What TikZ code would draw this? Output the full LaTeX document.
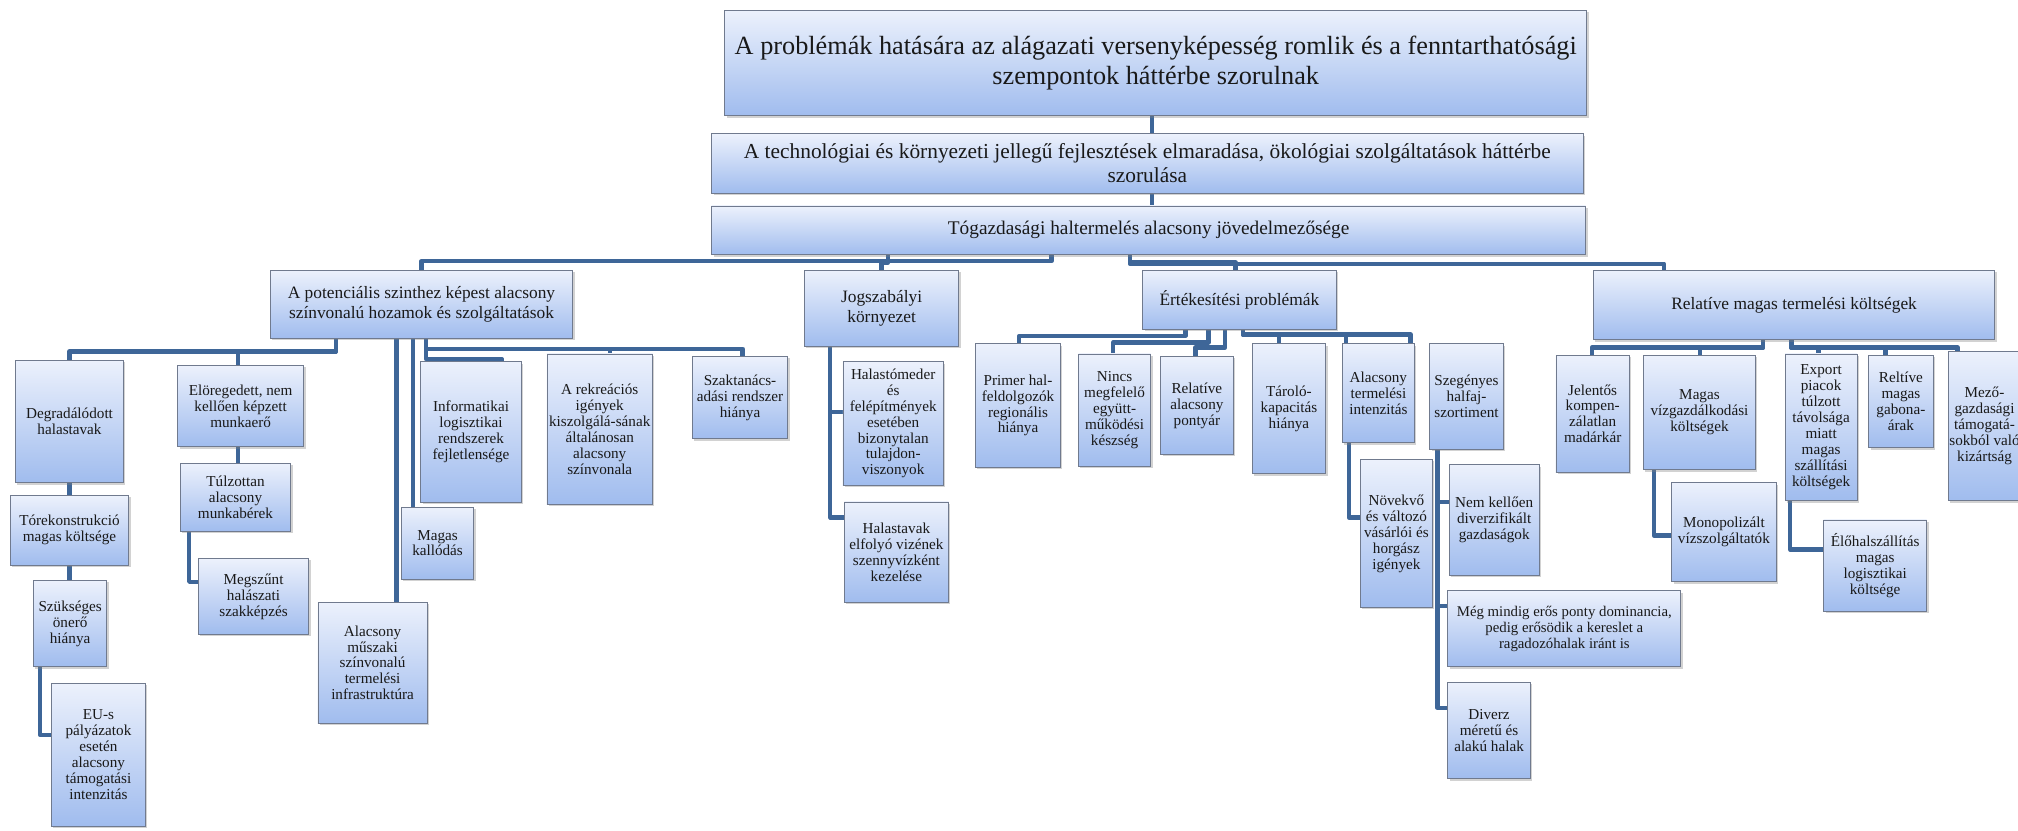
\documentclass[tikz,border=0pt]{standalone}
\usepackage{fontspec}
\setmainfont{Liberation Serif}
\usetikzlibrary{shadows,backgrounds}
\definecolor{boxtop}{RGB}{236,241,252}
\definecolor{boxbot}{RGB}{160,188,238}
\definecolor{boxline}{RGB}{112,122,142}
\definecolor{linkblue}{RGB}{62,102,152}
\definecolor{txt}{RGB}{25,25,25}
\newcommand{\fsS}{\fontsize{11.8bp}{12.4bp}\selectfont}
\newcommand{\fsM}{\fontsize{13.5bp}{15bp}\selectfont}
\newcommand{\fsL}{\fontsize{15bp}{18bp}\selectfont}
\newcommand{\fsLL}{\fontsize{16.6bp}{18.5bp}\selectfont}
\newcommand{\fsXL}{\fontsize{20.4bp}{23bp}\selectfont}
\tikzset{
  box/.style={draw=boxline, line width=0.6bp, top color=boxtop, bottom color=boxbot,
    drop shadow={shadow xshift=1.5bp, shadow yshift=-1.5bp, opacity=0.35},
    inner sep=1bp, align=center, text=txt, font=\fsS},
  link/.style={draw=linkblue, line width=3.4bp, line join=round}
}
\newcommand{\mybox}[7][]{%
  \pgfmathsetmacro{\myBW}{#5-#3}%
  \pgfmathsetmacro{\myBH}{#6-#4}%
  \pgfmathsetmacro{\myCX}{(#3+#5)/2}%
  \pgfmathsetmacro{\myCY}{(#4+#6)/2}%
  \node[box, minimum width=\myBW bp, minimum height=\myBH bp, #1] (#2) at (\myCX,\myCY) {#7};%
}
\begin{document}
\begin{tikzpicture}[x=1bp, y=-1bp]
\useasboundingbox (0,0) rectangle (1568,645);
% levels 1-3
\mybox[font=\fsXL]{top}{563}{8}{1233}{90}{A problémák hatására az alágazati versenyképesség romlik és a fenntarthatósági\\szempontok háttérbe szorulnak}
\mybox[font=\fsLL]{b2}{553}{104}{1230}{150}{A technológiai és környezeti jellegű fejlesztések elmaradása, ökológiai szolgáltatások háttérbe\\szorulása}
\mybox[font=\fsL]{b3}{553}{160}{1232}{198}{Tógazdasági haltermelés alacsony jövedelmezősége}
% level 4
\mybox[font=\fsM]{pot}{210}{210}{445}{263}{A potenciális szinthez képest alacsony\\színvonalú hozamok és szolgáltatások}
\mybox[font=\fsM]{jog}{625}{210}{745}{269}{Jogszabályi\\környezet}
\mybox[font=\fsM]{ert}{888}{210}{1038}{256}{Értékesítési problémák}
\mybox[font=\fsM]{rel}{1238}{210}{1550}{264}{Relatíve magas termelési költségek}
% under pot
\mybox{deg}{12}{280}{96}{375}{Degradálódott\\halastavak}
\mybox{tor}{8}{385}{100}{439}{Tórekonstrukció\\magas költsége}
\mybox{szu}{26}{451}{83}{518}{Szükséges\\önerő\\hiánya}
\mybox{eu}{40}{531}{113}{642}{EU-s\\pályázatok\\esetén\\alacsony\\támogatási\\intenzitás}
\mybox{elo}{138}{284}{236}{347}{Elöregedett, nem\\kellően képzett\\munkaerő}
\mybox{tul}{140}{360}{226}{413}{Túlzottan\\alacsony\\munkabérek}
\mybox{meg}{154}{434}{240}{493}{Megszűnt\\halászati\\szakképzés}
\mybox{alm}{247}{468}{332}{562}{Alacsony\\műszaki\\színvonalú\\termelési\\infrastruktúra}
\mybox{mk}{312}{394}{368}{450}{Magas\\kallódás}
\mybox{inf}{327}{281}{405}{390}{Informatikai\\logisztikai\\rendszerek\\fejletlensége}
\mybox{rek}{425}{275}{507}{392}{A rekreációs\\igények\\kiszolgálá-sának\\általánosan\\alacsony\\színvonala}
\mybox{szt}{538}{277}{612}{341}{Szaktanács-\\adási rendszer\\hiánya}
% under jog
\mybox{hal1}{655}{281}{733}{377}{Halastómeder\\és\\felépítmények\\esetében\\bizonytalan\\tulajdon-\\viszonyok}
\mybox{hal2}{656}{390}{737}{468}{Halastavak\\elfolyó vizének\\szennyvízként\\kezelése}
% under ert
\mybox{pri}{758}{267}{824}{363}{Primer hal-\\feldolgozók\\regionális\\hiánya}
\mybox{nin}{838}{275}{894}{362}{Nincs\\megfelelő\\együtt-\\működési\\készség}
\mybox{rap}{902}{277}{958}{353}{Relatíve\\alacsony\\pontyár}
\mybox{tar}{973}{267}{1030}{368}{Tároló-\\kapacitás\\hiánya}
\mybox{ati}{1043}{267}{1099}{344}{Alacsony\\termelési\\intenzitás}
\mybox{sze}{1111}{267}{1168}{349}{Szegényes\\halfaj-\\szortiment}
\mybox{nov}{1057}{357}{1113}{472}{Növekvő\\és változó\\vásárlói és\\horgász\\igények}
\mybox{nem}{1126}{361}{1196}{447}{Nem kellően\\diverzifikált\\gazdaságok}
\mybox[font=\fontsize{11.5bp}{12.3bp}\selectfont]{mm}{1125}{459}{1306}{518}{Még mindig erős ponty dominancia,\\pedig erősödik a kereslet a\\ragadozóhalak iránt is}
\mybox{div}{1125}{530}{1189}{605}{Diverz\\méretű és\\alakú halak}
% under rel
\mybox{jel}{1209}{276}{1266}{367}{Jelentős\\kompen-\\zálatlan\\madárkár}
\mybox{mvk}{1277}{276}{1364}{365}{Magas\\vízgazdálkodási\\költségek}
\mybox{exp}{1387}{275}{1443}{389}{Export\\piacok\\túlzott\\távolsága\\miatt\\magas\\szállítási\\költségek}
\mybox{rga}{1452}{276}{1502}{348}{Reltíve\\magas\\gabona-\\árak}
\mybox{mez}{1514}{273}{1570}{389}{Mező-\\gazdasági\\támogatá-\\sokból való\\kizártság}
\mybox{mon}{1299}{375}{1380}{452}{Monopolizált\\vízszolgáltatók}
\mybox{elh}{1417}{404}{1497}{475}{Élőhalszállítás\\magas\\logisztikai\\költsége}
% connectors
\begin{scope}[on background layer]
\fill[white] (0,0) rectangle (1568,645);
\draw[link] (top.south -| 895,0) -- (b2.north -| 895,0);
\draw[link] (b2.south -| 895,0) -- (b3.north -| 895,0);
\draw[link] (b3.south -| 817,0) -- (817,203) -| (pot.north);
\draw[link] (b3.south -| 690,0) -- (690,204) -| (jog.north);
\draw[link] (b3.south -| 878,0) -- (878,204) -| (ert.north -| 960,0);
\draw[link] (b3.south -| 878,0) -- (878,205) -| (rel.north -| 1293,0);
% pot
\draw[link] (pot.south -| 261,0) -- (261,273) -| (deg.north);
\draw[link] (pot.south -| 261,0) -- (261,273) -| (elo.north -| 185,0);
\draw[link] (pot.south -| 308,0) -- (alm.north -| 308,0);
\draw[link] (pot.south -| 321,0) -- (mk.north -| 321,0);
\draw[link] (pot.south -| 331,0) -- (331,279) -| (inf.north -| 390,0);
\draw[link] (pot.south -| 331,0) -- (331,271) -| (rek.north -| 474,0);
\draw[link] (pot.south -| 331,0) -- (331,271) -| (szt.north -| 577,0);
\draw[link] (deg.south) -- (tor.north);
\draw[link] (tor.south) -- (szu.north -| tor.south);
\draw[link] (szu.south -| 31,0) -- (31,571) -- (eu.west |- 0,571);
\draw[link] (elo.south -| 185,0) -- (tul.north -| 185,0);
\draw[link] (tul.south -| 147,0) -- (147,452) -- (meg.west |- 0,452);
% jog
\draw[link] (jog.south -| 645,0) -- (645,320) -- (hal1.west |- 0,320);
\draw[link] (jog.south -| 645,0) -- (645,402) -- (hal2.west |- 0,402);
% ert
\draw[link] (ert.south -| 921,0) -- (921,261) -| (pri.north -| 792,0);
\draw[link] (ert.south -| 939,0) -- (939,266) -| (nin.north -| 865,0);
\draw[link] (ert.south -| 952,0) -- (952,270) -| (rap.north -| 929,0);
\draw[link] (ert.south -| 966,0) -- (966,260) -| (tar.north -| 994,0);
\draw[link] (ert.south -| 966,0) -- (966,260) -| (ati.north -| 1046,0);
\draw[link] (ert.south -| 966,0) -- (966,260) -| (sze.north -| 1096,0);
\draw[link] (ati.south -| 1048,0) -- (1048,402) -- (nov.west |- 0,402);
\draw[link] (sze.south -| 1117,0) -- (1117,390) -- (nem.west |- 0,390);
\draw[link] (sze.south -| 1117,0) -- (1117,471) -- (mm.west |- 0,471);
\draw[link] (sze.south -| 1117,0) -- (1117,550) -- (div.west |- 0,550);
% rel
\draw[link] (rel.south -| 1370,0) -- (1370,270) -| (jel.north -| 1237,0);
\draw[link] (rel.south -| 1370,0) -- (1370,270) -| (mvk.north -| 1321,0);
\draw[link] (rel.south -| 1392,0) -- (1392,270) -| (exp.north -| 1413,0);
\draw[link] (rel.south -| 1392,0) -- (1392,270) -| (rga.north -| 1465,0);
\draw[link] (rel.south -| 1392,0) -- (1392,270) -| (mez.north -| 1521,0);
\draw[link] (mvk.south -| 1285,0) -- (1285,416) -- (mon.west |- 0,416);
\draw[link] (exp.south -| 1391,0) -- (1391,427) -- (elh.west |- 0,427);
\end{scope}
\end{tikzpicture}
\end{document}
